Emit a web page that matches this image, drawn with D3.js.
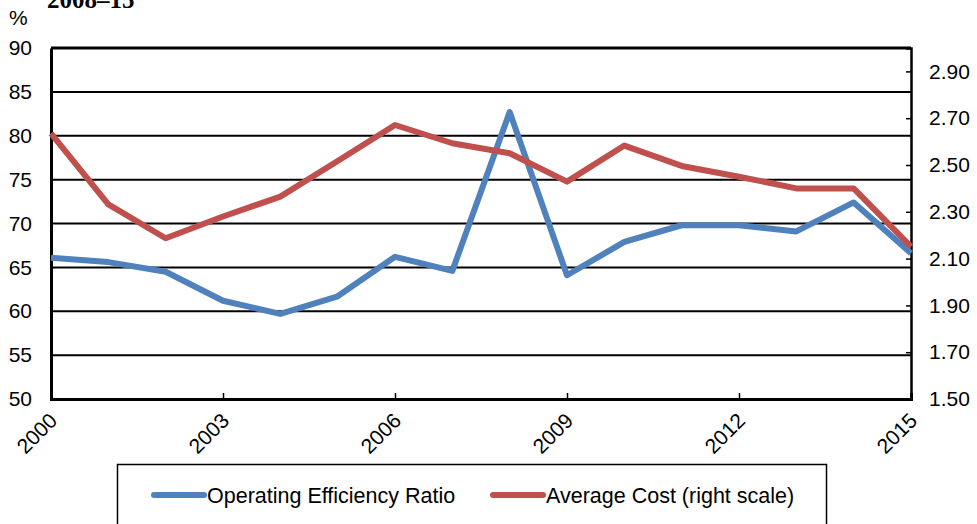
<!DOCTYPE html>
<html>
<head>
<meta charset="utf-8">
<script src="https://cdn.jsdelivr.net/npm/d3@7"></script>
<style>
  body { margin: 0; background: #fff; }
  svg { display: block; font-family: "Liberation Sans", Arial, sans-serif; }
</style>
</head>
<body>
<script>
var width = 977,
    height = 524;

// data
var years = d3.range(2000, 2016);
var efficiency = [66.1, 65.6, 64.5, 61.2, 59.7, 61.7, 66.2, 64.6, 82.7, 64.1, 67.9, 69.8, 69.8, 69.1, 72.4, 66.6];
var avgCost = [2.635, 2.332, 2.187, 2.28, 2.365, 2.517, 2.671, 2.593, 2.55, 2.429, 2.583, 2.496, 2.45, 2.40, 2.40, 2.151];
var leftTicks = [50, 55, 60, 65, 70, 75, 80, 85, 90];
var rightTicks = [1.5, 1.7, 1.9, 2.1, 2.3, 2.5, 2.7, 2.9];
var xTicks = [2000, 2003, 2006, 2009, 2012, 2015];
var seriesNames = ["Operating Efficiency Ratio", "Average Cost (right scale)"];
var colors = ["#4F81BD", "#C0504D"];

var margin = {top: 48, right: 66, bottom: 125, left: 51};

var x = d3.scaleLinear().domain([2000, 2015]).range([margin.left, width - margin.right]);
var yL = d3.scaleLinear().domain([50, 90]).range([height - margin.bottom, margin.top]);
var yR = d3.scaleLinear().domain([1.5, 3.0]).range([height - margin.bottom, margin.top]);

var svg = d3.select("body").append("svg")
    .attr("width", width)
    .attr("height", height);

// title (partly cut off at the top)
svg.append("text")
    .attr("x", 47)
    .attr("y", 8)
    .attr("font-family", "Liberation Serif, Times New Roman, serif")
    .attr("font-weight", "bold")
    .attr("font-size", 25)
    .text("2008–15");

svg.append("text")
    .attr("x", 9)
    .attr("y", 25)
    .attr("font-size", 21)
    .text("%");

// gridlines
svg.append("g")
    .selectAll("line")
    .data(leftTicks)
    .join("line")
      .attr("x1", x(2000))
      .attr("x2", x(2015))
      .attr("y1", d => yL(d))
      .attr("y2", d => yL(d))
      .attr("stroke", "#000")
      .attr("stroke-width", d => d == 90 ? 3 : 2);

// left axis
var leftAxis = svg.append("g")
    .attr("transform", `translate(${x(2000)},0)`)
    .call(d3.axisLeft(yL).tickValues(leftTicks).tickSize(0).tickPadding(19));
leftAxis.select(".domain").attr("stroke-width", 3);
leftAxis.selectAll("text").attr("font-size", 21).attr("fill", "#000");

// right axis
var rightAxis = svg.append("g")
    .attr("transform", `translate(${x(2015)},0)`)
    .call(d3.axisRight(yR).tickValues(rightTicks).tickSize(-5).tickPadding(18).tickFormat(d3.format(".2f")));
rightAxis.select(".domain").attr("stroke-width", 2.5);
rightAxis.selectAll("line").attr("stroke-width", 1.5);
rightAxis.selectAll("text").attr("font-size", 21).attr("fill", "#000");

// bottom axis
var bottomAxis = svg.append("g")
    .attr("transform", `translate(0,${yL(50)})`)
    .call(d3.axisBottom(x).tickValues(xTicks).tickSize(-6).tickFormat(d3.format("d")));
bottomAxis.select(".domain").attr("stroke-width", 3);
bottomAxis.selectAll("line").attr("stroke-width", 1.5);
bottomAxis.selectAll("text")
    .attr("font-size", 21)
    .attr("fill", "#000")
    .attr("text-anchor", "end")
    .attr("y", 0)
    .attr("dy", 0)
    .attr("transform", "translate(7,23) rotate(-45)");

// series lines
var lineL = d3.line().x((d, i) => x(years[i])).y(d => yL(d));
var lineR = d3.line().x((d, i) => x(years[i])).y(d => yR(d));

svg.append("path")
    .datum(efficiency)
    .attr("d", lineL)
    .attr("fill", "none")
    .attr("stroke", colors[0])
    .attr("stroke-width", 6)
    .attr("stroke-linejoin", "round");

svg.append("path")
    .datum(avgCost)
    .attr("d", lineR)
    .attr("fill", "none")
    .attr("stroke", colors[1])
    .attr("stroke-width", 6)
    .attr("stroke-linejoin", "round");

// legend
var legend = svg.append("g");
legend.append("rect")
    .attr("x", 117.5)
    .attr("y", 464.5)
    .attr("width", 709)
    .attr("height", 80)
    .attr("fill", "none")
    .attr("stroke", "#000")
    .attr("stroke-width", 1.5);

var legendX = [154, 493];
var item = legend.selectAll("g.item")
    .data(seriesNames)
    .join("g")
      .attr("class", "item")
      .attr("transform", (d, i) => `translate(${legendX[i]},495)`);

item.append("line")
    .attr("x1", 0)
    .attr("x2", 50)
    .attr("stroke", (d, i) => colors[i])
    .attr("stroke-width", 6)
    .attr("stroke-linecap", "round");

item.append("text")
    .attr("x", 53)
    .attr("dy", "0.35em")
    .attr("font-size", 21.5)
    .text(d => d);
</script>
</body>
</html>
